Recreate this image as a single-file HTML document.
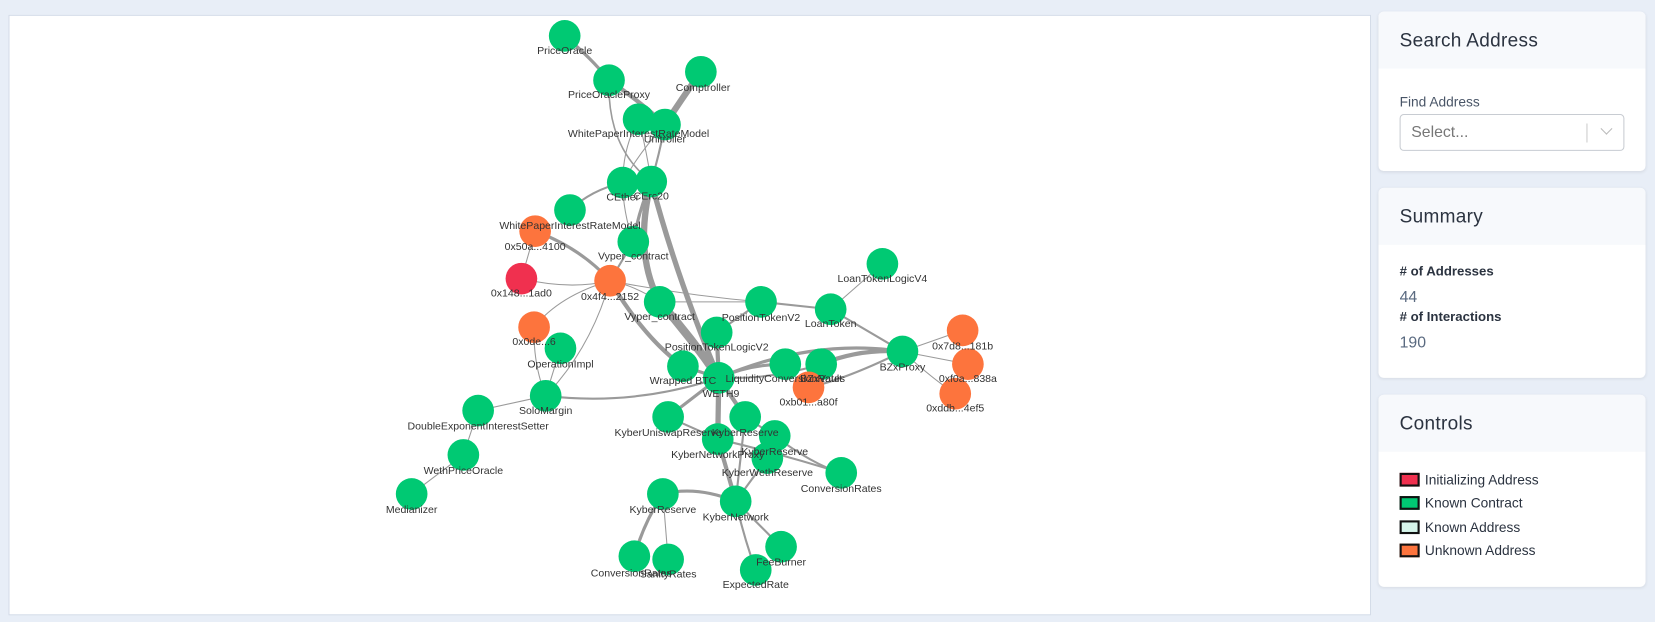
<!DOCTYPE html>
<html><head><meta charset="utf-8"><style>
*{margin:0;padding:0;box-sizing:border-box}
body{width:1655px;height:622px;overflow:hidden;background:#e8eef7;font-family:"Liberation Sans",sans-serif}
#w{position:absolute;left:0;top:0;width:1568px;height:589px;transform:scale(1.0555);transform-origin:0 0}
#g{position:absolute;left:8px;top:14px;width:1291px;height:569px;background:#fff;border:1px solid #d3dbe8}
.card{position:absolute;left:1306px;width:253px;background:#fff;border-radius:5px;box-shadow:0 1px 3px rgba(0,0,0,.08);overflow:hidden}
.hd{background:#f7f9fc;height:54px;padding:17px 20px 0;font-size:18px;color:#2b3340;letter-spacing:.3px}
.bd{padding:0 20px;color:#2b3340}
.lg{display:flex;align-items:center;font-size:13px;height:22.5px}
.sw{width:19px;height:13px;border:2px solid #111;margin-right:5px}
</style></head><body><div id="w">
<div id="g"></div>
<svg style="position:absolute;left:0;top:0" width="1568" height="589" font-family="Liberation Sans, sans-serif" font-size="10" fill="#333">
<g stroke="#9a9a9a" fill="none" stroke-linecap="round">
<path d="M535,34 Q560,55 577,76" stroke-width="3"/>
<path d="M577,76 Q605,95 630,118" stroke-width="4"/>
<path d="M577,76 Q575,140 617,172" stroke-width="1.5"/>
<path d="M664,68 Q645,95 630,118" stroke-width="6"/>
<path d="M630,118 Q605,145 590,173" stroke-width="1"/>
<path d="M630,118 Q625,145 617,172" stroke-width="2"/>
<path d="M605,113 Q612,140 617,172" stroke-width="1"/>
<path d="M605,113 Q590,140 590,173" stroke-width="1"/>
<path d="M617,172 Q605,200 600,229" stroke-width="3"/>
<path d="M617,172 Q600,240 625,286" stroke-width="6"/>
<path d="M590,173 Q560,180 540,199" stroke-width="2"/>
<path d="M590,173 Q590,200 600,229" stroke-width="1"/>
<path d="M507,219 Q550,235 578,266" stroke-width="3"/>
<path d="M507,219 L494,264" stroke-width="1"/>
<path d="M494,264 Q540,275 578,266" stroke-width="1"/>
<path d="M578,266 L600,229" stroke-width="2"/>
<path d="M578,266 Q610,320 647,347" stroke-width="4"/>
<path d="M578,266 Q530,280 506,310" stroke-width="1"/>
<path d="M578,266 Q560,330 517,375" stroke-width="1"/>
<path d="M578,266 Q650,280 721,286" stroke-width="1"/>
<path d="M578,266 Q600,270 625,286" stroke-width="1"/>
<path d="M625,286 Q655,320 681,358" stroke-width="8"/>
<path d="M617,172 Q640,260 681,358" stroke-width="5"/>
<path d="M506,310 Q505,345 517,375" stroke-width="1"/>
<path d="M531,330 L517,375" stroke-width="1"/>
<path d="M517,375 L453,389" stroke-width="1"/>
<path d="M453,389 L439,431" stroke-width="1"/>
<path d="M439,431 L390,468" stroke-width="1"/>
<path d="M517,375 Q600,385 681,358" stroke-width="2"/>
<path d="M681,358 L679,315" stroke-width="4"/>
<path d="M681,358 Q710,345 744,345" stroke-width="3"/>
<path d="M681,358 Q730,360 778,345" stroke-width="2"/>
<path d="M681,358 L680,416" stroke-width="5"/>
<path d="M681,358 L706,395" stroke-width="4"/>
<path d="M681,358 L633,395" stroke-width="3"/>
<path d="M647,347 L681,358" stroke-width="3"/>
<path d="M721,286 L679,315" stroke-width="2"/>
<path d="M721,286 L787,293" stroke-width="2"/>
<path d="M787,293 L836,250" stroke-width="1"/>
<path d="M787,293 L855,333" stroke-width="2"/>
<path d="M855,333 L912,313" stroke-width="1"/>
<path d="M855,333 L917,345" stroke-width="1"/>
<path d="M855,333 Q885,360 905,373" stroke-width="1"/>
<path d="M855,333 Q815,330 778,345" stroke-width="4"/>
<path d="M855,333 Q770,320 681,358" stroke-width="3"/>
<path d="M855,333 Q800,360 766,367" stroke-width="2"/>
<path d="M680,416 Q690,450 697,475" stroke-width="4"/>
<path d="M697,475 Q660,460 628,468" stroke-width="3"/>
<path d="M628,468 Q610,495 601,527" stroke-width="3"/>
<path d="M628,468 L633,530" stroke-width="1"/>
<path d="M697,475 L740,518" stroke-width="2"/>
<path d="M697,475 Q705,510 716,540" stroke-width="2"/>
<path d="M697,475 L727,434" stroke-width="2"/>
<path d="M734,413 Q770,440 797,448" stroke-width="2"/>
<path d="M680,416 Q740,430 797,448" stroke-width="2"/>
<path d="M706,395 L734,413" stroke-width="2"/>
<path d="M633,395 L680,416" stroke-width="2"/>
<path d="M625,286 L721,286" stroke-width="1"/>
<path d="M697,475 L706,395" stroke-width="2"/>
</g>
<g fill="#00c973">
<circle cx="535" cy="34" r="15"/><circle cx="577" cy="76" r="15"/><circle cx="664" cy="68" r="15"/>
<circle cx="605" cy="113" r="15"/><circle cx="630" cy="118" r="15"/>
<circle cx="590" cy="173" r="15"/><circle cx="617" cy="172" r="15"/>
<circle cx="540" cy="199" r="15"/><circle cx="600" cy="229" r="15"/><circle cx="625" cy="286" r="15"/>
<circle cx="836" cy="250" r="15"/><circle cx="721" cy="286" r="15"/><circle cx="787" cy="293" r="15"/>
<circle cx="531" cy="330" r="15"/><circle cx="679" cy="315" r="15"/><circle cx="855" cy="333" r="15"/>
<circle cx="647" cy="347" r="15"/><circle cx="744" cy="345" r="15"/><circle cx="778" cy="345" r="15"/>
<circle cx="681" cy="358" r="15"/><circle cx="517" cy="375" r="15"/><circle cx="453" cy="389" r="15"/>
<circle cx="633" cy="395" r="15"/><circle cx="706" cy="395" r="15"/><circle cx="680" cy="416" r="15"/>
<circle cx="734" cy="413" r="15"/><circle cx="727" cy="434" r="15"/><circle cx="797" cy="448" r="15"/>
<circle cx="439" cy="431" r="15"/><circle cx="390" cy="468" r="15"/><circle cx="628" cy="468" r="15"/>
<circle cx="697" cy="475" r="15"/><circle cx="740" cy="518" r="15"/><circle cx="716" cy="540" r="15"/>
<circle cx="601" cy="527" r="15"/><circle cx="633" cy="530" r="15"/>
</g>
<g fill="#fd743d">
<circle cx="507" cy="219" r="15"/><circle cx="578" cy="266" r="15"/><circle cx="506" cy="310" r="15"/>
<circle cx="912" cy="313" r="15"/><circle cx="917" cy="345" r="15"/><circle cx="766" cy="367" r="15"/><circle cx="905" cy="373" r="15"/>
</g>
<circle cx="494" cy="264" r="15" fill="#f0304f"/>
<g text-anchor="middle">
<text x="535" y="51">PriceOracle</text><text x="577" y="93">PriceOracleProxy</text><text x="666" y="86">Comptroller</text>
<text x="605" y="130">WhitePaperInterestRateModel</text><text x="630" y="135">Unitroller</text>
<text x="590" y="190">CEther</text><text x="617" y="189">CErc20</text>
<text x="540" y="217">WhitePaperInterestRateModel</text><text x="507" y="237">0x50a...4100</text>
<text x="600" y="246">Vyper_contract</text><text x="494" y="281">0x148...1ad0</text><text x="578" y="284">0x4f4...2152</text>
<text x="625" y="303">Vyper_contract</text><text x="836" y="267">LoanTokenLogicV4</text><text x="721" y="304">PositionTokenV2</text>
<text x="787" y="310">LoanToken</text><text x="506" y="327">0x0de...6</text><text x="531" y="348">OperationImpl</text>
<text x="679" y="332">PositionTokenLogicV2</text><text x="912" y="331">0x7d8...181b</text><text x="855" y="351">BZxProxy</text>
<text x="917" y="362">0xf0a...838a</text><text x="647" y="364">Wrapped BTC</text><text x="744" y="362">LiquidityConversionRates</text>
<text x="778" y="362">BZxVault</text><text x="683" y="376">WETH9</text><text x="766" y="384">0xb01...a80f</text>
<text x="905" y="390">0xddb...4ef5</text><text x="517" y="392">SoloMargin</text><text x="453" y="407">DoubleExponentInterestSetter</text>
<text x="633" y="413">KyberUniswapReserve</text><text x="706" y="413">KyberReserve</text><text x="680" y="434">KyberNetworkProxy</text>
<text x="734" y="431">KyberReserve</text><text x="727" y="451">KyberWethReserve</text><text x="797" y="466">ConversionRates</text>
<text x="439" y="449">WethPriceOracle</text><text x="390" y="486">Medianizer</text><text x="628" y="486">KyberReserve</text>
<text x="697" y="493">KyberNetwork</text><text x="740" y="536">FeeBurner</text><text x="716" y="557">ExpectedRate</text>
<text x="598" y="546">ConversionRates</text><text x="633" y="547">SanityRates</text>
</g>
</svg>
<div class="card" style="top:11px;height:151px"><div class="hd">Search Address</div>
<div class="bd"><div style="font-size:13px;color:#495567;margin-top:24px">Find Address</div>
<div style="margin-top:4px;height:35px;border:1px solid #c8ccd2;border-radius:4px;position:relative;font-size:15px;color:#777;padding:8px 10px">Select...
<div style="position:absolute;right:34px;top:8px;width:1px;height:18px;background:#ccc"></div>
<div style="position:absolute;right:12px;top:9px;width:8px;height:8px;border-right:1.5px solid #bbb;border-bottom:1.5px solid #bbb;transform:rotate(45deg)"></div></div></div></div>
<div class="card" style="top:178px;height:180px"><div class="hd">Summary</div>
<div class="bd"><div style="font-size:12.5px;font-weight:bold;margin-top:18px">#  of Addresses</div>
<div style="font-size:15px;color:#5a6a80;margin-top:9px">44</div>
<div style="font-size:12.5px;font-weight:bold;margin-top:3px">#  of Interactions</div>
<div style="font-size:15px;color:#5a6a80;margin-top:9px">190</div></div></div>
<div class="card" style="top:374px;height:182px"><div class="hd">Controls</div>
<div class="bd" style="padding-top:15px">
<div class="lg"><span class="sw" style="background:#f0304f"></span>Initializing Address</div>
<div class="lg"><span class="sw" style="background:#00c973"></span>Known Contract</div>
<div class="lg"><span class="sw" style="background:#d5f5ea"></span>Known Address</div>
<div class="lg"><span class="sw" style="background:#fd743d"></span>Unknown Address</div>
</div></div>
</div></body></html>
